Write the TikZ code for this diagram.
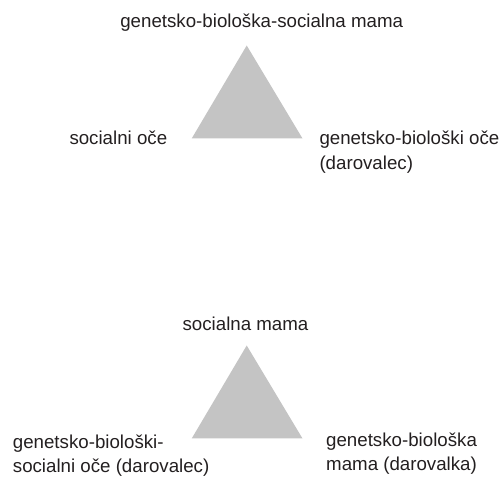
\documentclass[tikz,border=0pt]{standalone}
\usepackage{fontspec}
\setmainfont{Liberation Sans}
\definecolor{trigray}{HTML}{C4C4C4}
\definecolor{labelink}{HTML}{231F20}
\tikzset{
	role/.style={font=\fontsize{18.7}{24.5}\selectfont, text=labelink, inner sep=0pt, align=left},
}
\begin{document}
\begin{tikzpicture}[x=1pt, y=1pt]
	\useasboundingbox (0, 0) rectangle (504, 477);
	% the two triangles
	\foreach \yb in {338.5, 38.5}
		\fill[trigray] (191.7, \yb) -- (302.5, \yb) -- (246.7, \yb + 93) -- cycle;
	% upper family
	\node[role, anchor=base] (mamaA) at (261.7, 449.7) {genetsko-biološka-socialna mama};
	\node[role, anchor=base west] (oceA) at (69.3, 332) {socialni oče};
	\node[role, anchor=base west] (darA) at (319.3, 307.7) {genetsko-biološki oče\\(darovalec)};
	% lower family
	\node[role, anchor=base] (mamaB) at (245.5, 146.3) {socialna mama};
	\node[role, anchor=base west] (oceB) at (12.7, 4.3) {genetsko-biološki-\\socialni oče (darovalec)};
	\node[role, anchor=base west] (darB) at (326, 6) {genetsko-biološka\\mama (darovalka)};
\end{tikzpicture}
\end{document}
